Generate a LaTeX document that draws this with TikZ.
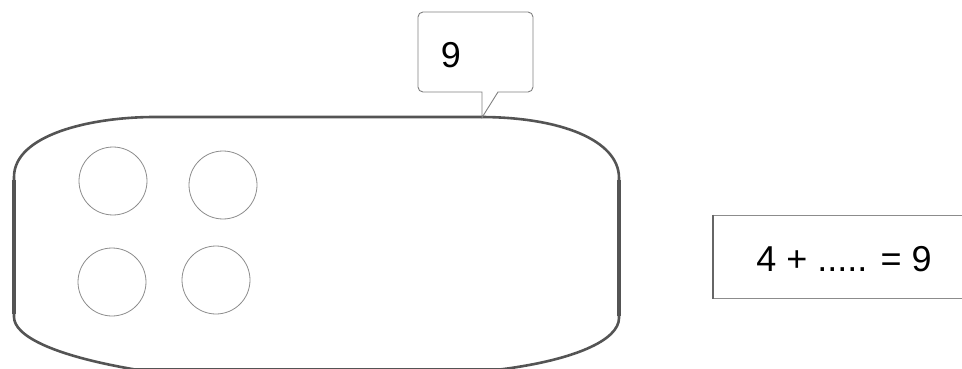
\documentclass[tikz,border=0pt]{standalone}
\usepackage{fontspec}
\setmainfont{Liberation Sans}
\begin{document}
\begin{tikzpicture}[x=1pt,y=-1pt,
  ball/.style={circle,draw=black!45,line width=0.8pt,minimum size=68pt,inner sep=0pt},
  outline/.style={draw=black!67,line width=2.6pt},
  lbl/.style={font=\fontsize{36}{40}\selectfont,inner sep=0pt,text=black}]
\useasboundingbox (0,0) rectangle (962,369);
\clip (0,0) rectangle (962,369);
% main rounded shape
\draw[outline] (155,117) -- (480,117)
  .. controls (560,117) and (619,140) .. (619,178)
  -- (619,318)
  .. controls (619,340) and (575,360) .. (500,369.5)
  -- (135,369.5)
  .. controls (50,355) and (14,335) .. (14,317)
  -- (14,177)
  .. controls (14,135) and (90,117) .. (155,117) -- cycle;
\draw[draw=black!67,line width=3.2pt] (14,180) -- (14,314) (619,180) -- (619,316);
% counters
\node[ball] (c1) at (113,181) {};
\node[ball] (c2) at (223,185) {};
\node[ball] (c3) at (112,282) {};
\node[ball] (c4) at (216,280) {};
% callout
\draw[draw=black!50,line width=0.9pt,fill=white] (482,92) [rounded corners=5pt] -- (418,92) -- (418,12) -- (533,12) -- (533,92) [sharp corners] -- (498,92) -- (482,117.5) -- cycle;
\node[lbl] (nine) at (451,55) {9};
% equation box
\draw[draw=black!45,line width=0.9pt] (963,215) -- (713,215);
\draw[draw=black!45,line width=0.9pt] (713,298) -- (963,298);
\draw[draw=black!60,line width=1.4pt] (713,214.5) -- (713,298.5);
\node[lbl] (eq) at (844,259) {4 + ..... = 9};
\end{tikzpicture}
\end{document}
